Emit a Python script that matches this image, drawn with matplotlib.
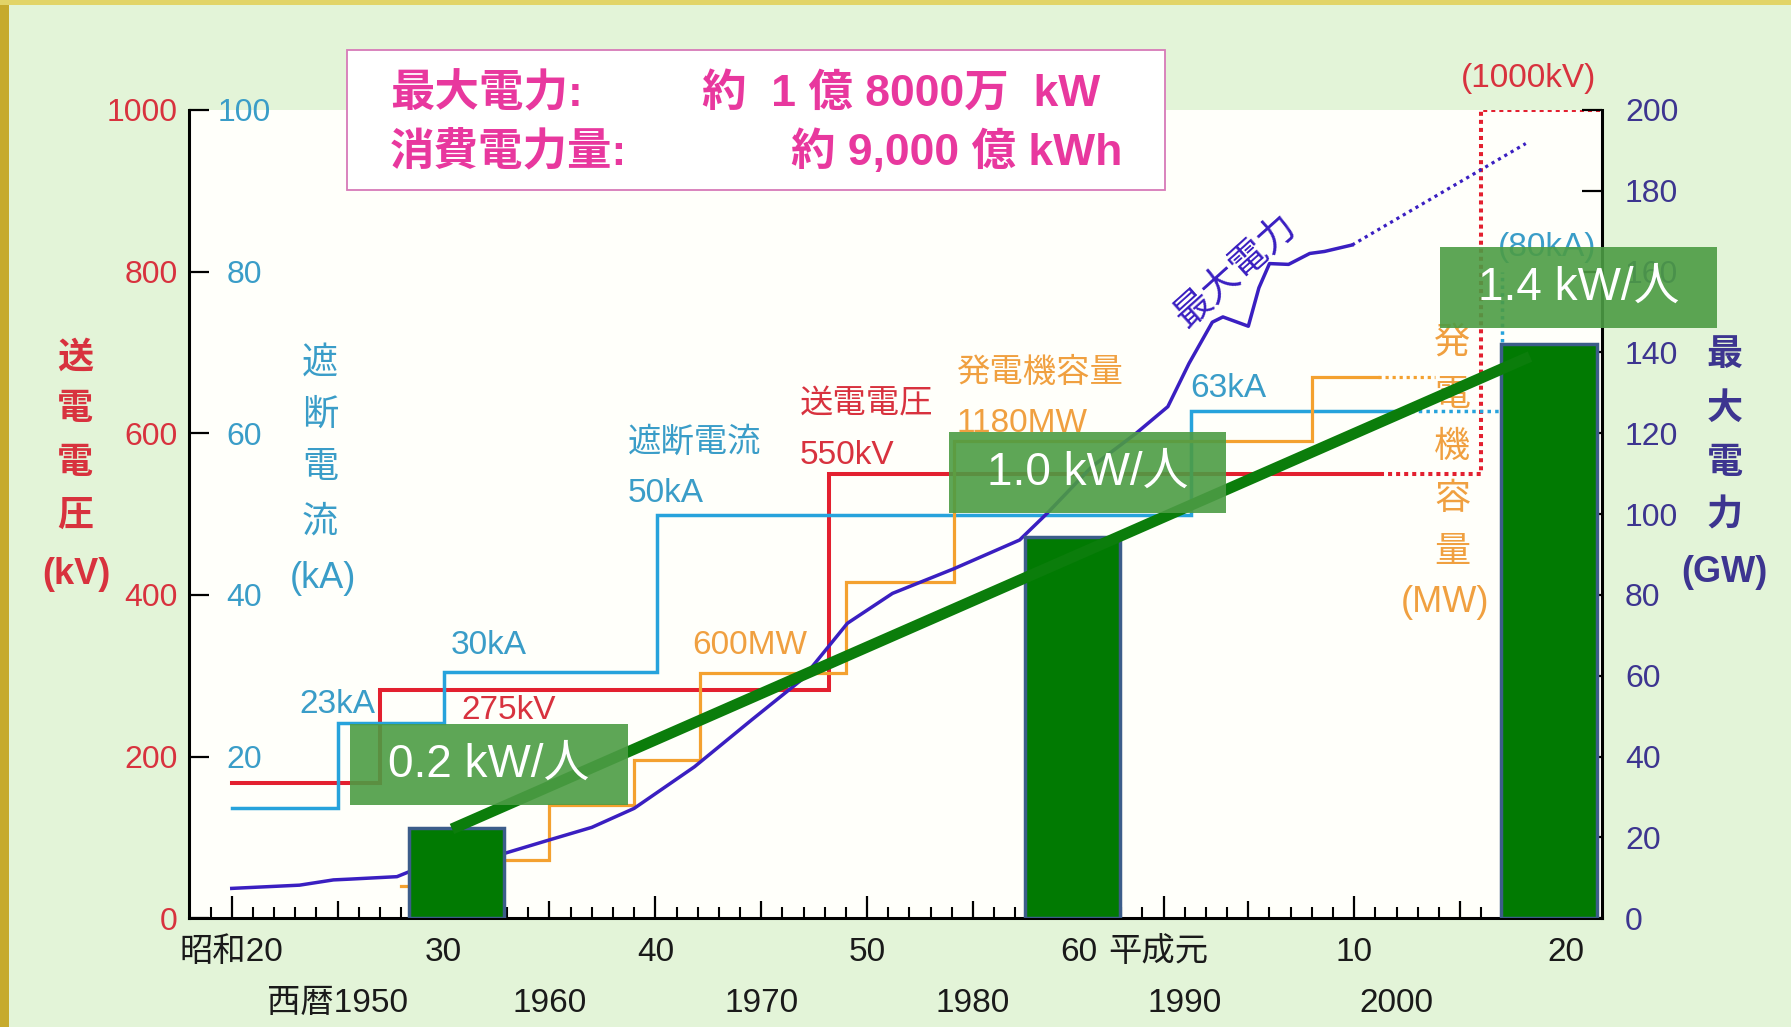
import matplotlib
matplotlib.use("Agg")
import matplotlib.pyplot as plt
import matplotlib.transforms as mtransforms
from matplotlib.patches import Rectangle
from matplotlib.ticker import FixedLocator

plt.rcParams['font.family'] = ['Liberation Sans', 'Noto Sans CJK JP', 'DejaVu Sans']

W_PX, H_PX = 1791, 1027

# ---------------- data ----------------
# 送電電圧 (kV) – step series
volt_years = [1945, 1952.0, 1973.2, 1999.2]
volt_kv = [167, 282, 550, 550]
volt_plan_years = [1999.2, 2004.0, 2004.0, 2009.7]
volt_plan_kv = [550, 550, 1000, 1000]

# 遮断電流 (kA)
curr_years = [1945, 1950.0, 1955.0, 1965.1, 1990.3, 2000.3]
curr_ka = [13.6, 24.1, 30.5, 49.9, 62.7, 62.7]
curr_plan_years = [2000.3, 2005.0, 2005.0]
curr_plan_ka = [62.7, 62.7, 80]

# 発電機容量 (MW)
gen_years = [1953.0, 1956.0, 1960.0, 1964.0, 1967.1, 1974.0, 1979.1, 1996.0, 1999.1]
gen_mw = [80, 144, 280, 392, 606, 833, 1180, 1340, 1340]
gen_plan_years = [1999.1, 2001.8]
gen_plan_mw = [1340, 1340]

# 最大電力 (GW)
peak_years = [1945, 1948.2, 1949.8, 1950.6, 1952.8, 1953.6, 1957.9, 1960.0, 1962.0,
              1964.0, 1966.85, 1969.55, 1971.9, 1974.07, 1976.2, 1979.1, 1982.2,
              1983.5, 1985.6, 1987.7, 1989.2, 1990.2, 1991.3, 1991.8, 1993.0,
              1993.5, 1994.0, 1994.9, 1995.9, 1996.6, 1997.9]
peak_gw = [7.4, 8.2, 9.5, 9.7, 10.3, 12.0, 16.1, 19.4, 22.5,
           27.2, 37.5, 49.1, 59.0, 73.0, 80.4, 86.5, 93.6,
           100.2, 111.7, 120.0, 126.6, 137.3, 147.5, 148.8, 146.5,
           156.0, 162.0, 161.8, 164.5, 165.0, 166.6]
peak_fore_years = [1997.9, 2006.1]
peak_fore_gw = [166.6, 191.7]

# per-capita peak demand bars (GW scale)
ratio_years = [1955.6, 1984.7, 2007.2]
ratio_gw = [22.3, 94.4, 142.0]
ratio_labels = ["0.2 kW/人", "1.0 kW/人", "1.4 kW/人"]
trend_years = [1955.4, 2006.3]
trend_gw = [22.1, 139.0]

# axis ticks / labels
kv_ticks = [0, 200, 400, 600, 800, 1000]
ka_ticks = [20, 40, 60, 80, 100]
gw_ticks = list(range(0, 201, 20))
era_pos = [1945, 1955, 1965, 1975, 1985, 1989, 1998, 2008]
era_labels = ["昭和20", "30", "40", "50", "60", "平成元", "10", "20"]
mid_pos = [1950, 1960, 1970, 1980, 1993, 2003]
ad_pos = [1950, 1960, 1970, 1980, 1990, 2000]
ad_labels = ["西暦1950", "1960", "1970", "1980", "1990", "2000"]

# ---------------- colours ----------------
RED = '#e3202f'
RED_T = '#d8323e'
BLUE = '#27a3dc'
BLUE_T = '#3a9dc8'
ORANGE = '#f4a12f'
ORANGE_T = '#f0a040'
PURPLE = '#3a1fc1'
PURPLE_T = '#3d3590'
MAG = '#e8389e'
BAR_G = '#017a02'
BAR_E = '#3c5d8a'
BOX_G = '#4c9c44'

fig = plt.figure(figsize=(W_PX / 100, H_PX / 100), dpi=100)
fig.patch.set_facecolor('#e3f4d8')

L, B = 189.4 / W_PX, (H_PX - 918.3) / H_PX
AW, AH = (1602 - 189.4) / W_PX, (918.3 - 110) / H_PX
ax = fig.add_axes([L, B, AW, AH])
ax.set_facecolor('#fffffa')
ax.set_xlim(1943.0, 2009.7)
ax.set_ylim(0, 1000)

ax_ka = ax.twinx()
ax_ka.set_ylim(0, 100)
ax_mw = ax.twinx()
ax_mw.set_ylim(0, 2000)
ax_gw = ax.twinx()
ax_gw.set_ylim(0, 200)

for a in (ax, ax_ka, ax_mw, ax_gw):
    for s in a.spines.values():
        s.set_visible(False)
ax.spines['left'].set_visible(True)
ax.spines['bottom'].set_visible(True)
ax_gw.spines['right'].set_visible(True)
for s in (ax.spines['left'], ax.spines['bottom'], ax_gw.spines['right']):
    s.set_linewidth(2.2)
    s.set_color('black')

# ---- series ----
ax.step(volt_years, volt_kv, where='post', color=RED, lw=2.9, solid_joinstyle='miter')
ax.plot(volt_plan_years, volt_plan_kv, color=RED, lw=2.9, linestyle=(0, (1.0, 1.0)))

ax_ka.step(curr_years, curr_ka, where='post', color=BLUE, lw=2.5, solid_joinstyle='miter')
ax_ka.plot(curr_plan_years, curr_plan_ka, color=BLUE, lw=2.5, linestyle=(0, (1.0, 1.2)))

ax_mw.step(gen_years, gen_mw, where='post', color=ORANGE, lw=2.3, solid_joinstyle='miter')
ax_mw.plot(gen_plan_years, gen_plan_mw, color=ORANGE, lw=2.3, linestyle=(0, (1.0, 1.2)))

ax_gw.plot(peak_years, peak_gw, color=PURPLE, lw=2.5)
ax_gw.plot(peak_fore_years, peak_fore_gw, color=PURPLE, lw=2.3, linestyle=(0, (1.0, 1.3)))

ax_gw.bar(ratio_years, ratio_gw, width=4.5, color=BAR_G, edgecolor=BAR_E, linewidth=2.5, zorder=3)
ax_gw.plot(trend_years, trend_gw, color='#0b7d0b', lw=8, solid_capstyle='butt', zorder=4)

# label boxes
box_x0 = [1950.6, 1978.85, 2002.05]
box_y0 = [28.0, 100.3, 146.0]
box_w, box_h = 13.1, 20.0
for x0, y0, lab in zip(box_x0, box_y0, ratio_labels):
    ax_gw.add_patch(Rectangle((x0, y0), box_w, box_h, facecolor=BOX_G, alpha=0.9,
                              edgecolor='none', zorder=5, clip_on=False))
    ax_gw.text(x0 + box_w / 2, y0 + box_h / 2, lab, ha='center', va='center',
               color='white', fontsize=33, zorder=6, clip_on=False)

# ---- ticks ----
ax.set_yticks(kv_ticks)
ax.tick_params(axis='y', direction='in', length=14.4, width=1.6, labelcolor=RED_T,
               labelsize=23, pad=8.6)

ax_ka.yaxis.tick_left()
ax_ka.set_yticks(ka_ticks)
ax_ka.tick_params(axis='y', length=0, labelcolor=BLUE_T, labelsize=23, pad=-39.3)
for lab in ax_ka.get_yticklabels():
    lab.set_horizontalalignment('center')

ax_mw.set_yticks([])

ax_gw.set_yticks(gw_ticks)
ax_gw.tick_params(axis='y', direction='in', length=14.4, width=1.6, labelcolor=PURPLE_T,
                  labelsize=23, pad=16.5)

major_pos = sorted(era_pos + mid_pos)
major_lab = [era_labels[era_pos.index(p)] if p in era_pos else "" for p in major_pos]
ax.set_xticks(major_pos, labels=major_lab)
ax.xaxis.set_minor_locator(FixedLocator(list(range(1944, 2010))))
ax.tick_params(axis='x', which='major', direction='in', length=15.5, width=1.6,
               labelsize=24, pad=13.5, labelcolor='#1a1a1a')
ax.tick_params(axis='x', which='minor', direction='in', length=8, width=1.5)
for t, p in zip(ax.xaxis.get_major_ticks(), major_pos):
    t.tick1line.set_markersize(15.5 if p in era_pos else 12.2)
for lab in ax.get_xticklabels():
    if lab.get_text() == "平成元":
        lab.set_transform(lab.get_transform() +
                          mtransforms.ScaledTranslation(-0.05, 0, fig.dpi_scale_trans))

ad_tr = mtransforms.blended_transform_factory(ax.transData, ax.transAxes)
for p, lab in zip(ad_pos, ad_labels):
    ax.text(p, -0.1048, lab, transform=ad_tr, ha='center', va='center',
            fontsize=24, color='#1a1a1a', clip_on=False)

# ---- in-plot labels (data coords: year, kV) ----
def lab(x, y, s, c, **kw):
    ax.text(x, y, s, color=c, fontsize=24, ha='left', va='center', clip_on=False, **kw)

lab(1948.17, 264.5, "23kA", BLUE_T)
lab(1955.36, 336.9, "30kA", BLUE_T)
lab(1955.83, 256.5, "275kV", RED_T)
lab(1966.75, 336.9, "600MW", ORANGE_T)
lab(1963.71, 588, "遮断電流", BLUE_T)
lab(1963.71, 526, "50kA", BLUE_T)
lab(1971.83, 635, "送電電圧", RED_T)
lab(1971.83, 573, "550kV", RED_T)
lab(1979.23, 674.6, "発電機容量", ORANGE_T)
lab(1979.23, 612.7, "1180MW", ORANGE_T)
lab(1990.27, 655.8, "63kA", BLUE_T)
lab(2004.8, 830.5, "(80kA)", BLUE_T)
lab(2003.05, 1039.5, "(1000kV)", RED_T)
ax.text(1992.4, 799.6, "最大電力", color=PURPLE, fontsize=27, rotation=42,
        ha='center', va='center', rotation_mode='anchor')

# ---- vertical axis titles (figure pixel positions) ----
def vtitle(x_px, ys_px, items, color, weight='normal', xs_last=None):
    for i, (yy, s) in enumerate(zip(ys_px, items)):
        xx = xs_last if (xs_last is not None and i == len(items) - 1) else x_px
        ax.text(xx / W_PX, 1 - yy / H_PX, s, transform=fig.transFigure, color=color,
                fontsize=26, ha='center', va='center', weight=weight, clip_on=False)

vtitle(75, [358, 410, 463, 516, 575], ["送", "電", "電", "圧", "(kV)"], RED_T, 'bold', 76)
vtitle(320, [363, 415, 468, 522, 578], ["遮", "断", "電", "流", "(kA)"], BLUE_T, 'normal', 323)
vtitle(1725, [356, 409, 463, 516, 572], ["最", "大", "電", "力", "(GW)"], PURPLE_T, 'bold', 1724)
vtitle(1452, [343, 395, 447, 500, 553, 603], ["発", "電", "機", "容", "量", "(MW)"], ORANGE_T,
       'normal', 1445)

# ---- info box ----
fig.patches.append(Rectangle((347 / W_PX, 1 - 190 / H_PX), (1165 - 347) / W_PX, 140 / H_PX,
                             transform=fig.transFigure, facecolor='white',
                             edgecolor='#d77ab8', linewidth=1.3, zorder=1))
def info(x_px, y_px, s):
    fig.text(x_px / W_PX, 1 - y_px / H_PX, s, color=MAG, fontsize=32, weight='bold',
             ha='left', va='center', zorder=2)
info(390, 94, "最大電力:")
info(702, 94, "約  1 億 8000万  kW")
info(390, 152, "消費電力量:")
info(791, 152, "約 9,000 億 kWh")

# ---- gold frame ----
fig.patches.append(Rectangle((0, 0), 9 / W_PX, 1, transform=fig.transFigure,
                             facecolor='#c6aa2c', edgecolor='none', zorder=0))
fig.patches.append(Rectangle((0, 1 - 5 / H_PX), 1, 5 / H_PX, transform=fig.transFigure,
                             facecolor='#e2d468', edgecolor='none', zorder=0))

fig.savefig("out.png", dpi=100, facecolor=fig.get_facecolor())
